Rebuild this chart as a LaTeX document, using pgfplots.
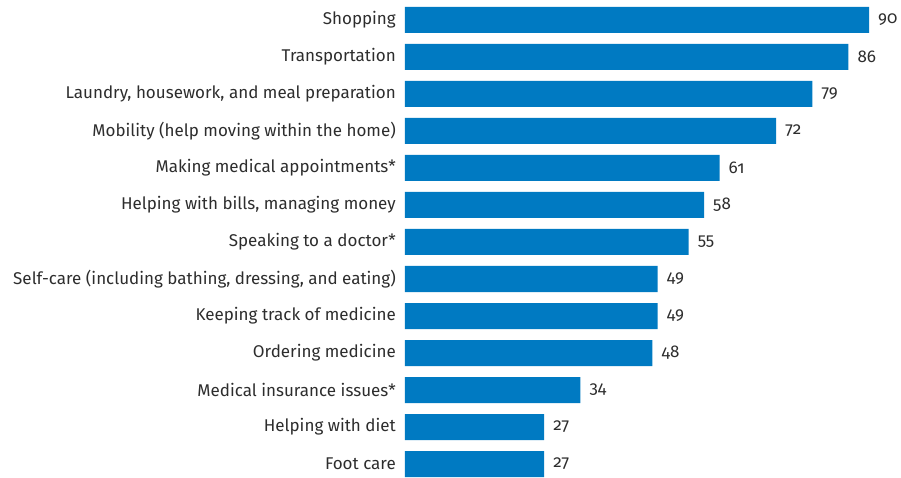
\documentclass[border=0pt]{standalone}
\usepackage{pgfplots}
\pgfplotsset{compat=1.18}
\usepackage{fontspec}
\setmainfont{Fira Sans}[Numbers=OldStyle]
\definecolor{barblue}{RGB}{0,122,194}
\definecolor{txt}{RGB}{45,45,45}
\begin{document}
\begin{tikzpicture}
\begin{axis}[
    xbar,
    scale only axis,
    width=496pt, height=477pt,
    xmin=0, xmax=96.2,
    ymin=-0.351, ymax=12.54,
    bar width=26pt,
    hide x axis,
    axis y line*=left,
    y axis line style={draw=none},
    major tick length=0pt,
    ytick={0,...,12},
    yticklabels={Foot care, Helping with diet, Medical insurance issues*,
      Ordering medicine, Keeping track of medicine,
      {Self-care (including bathing, dressing, and eating)},
      Speaking to a doctor*, {Helping with bills, managing money},
      Making medical appointments*, Mobility (help moving within the home),
      {Laundry, housework, and meal preparation}, Transportation, Shopping},
    yticklabel style={font=\fontsize{17}{20}\selectfont, text=txt, inner sep=0pt, xshift=-9pt},
    nodes near coords,
    nodes near coords style={font=\fontsize{17}{20}\selectfont, text=txt, anchor=west, inner sep=0pt, xshift=9pt,
      /pgf/number format/assume math mode=true},
    point meta=explicit symbolic,
    clip=false,
]
\addplot[fill=barblue, draw=none] table[meta=v] {
x y v
27 0 27
27 1 27
34 2 34
48 3 48
49 4 49
49 5 49
55 6 55
58 7 58
61 8 61
72 9 72
79 10 79
86 11 86
90 12 90
};
\end{axis}
\pgfresetboundingbox
\useasboundingbox (-405pt,0pt) rectangle (496pt,477pt);
\end{tikzpicture}
\end{document}
